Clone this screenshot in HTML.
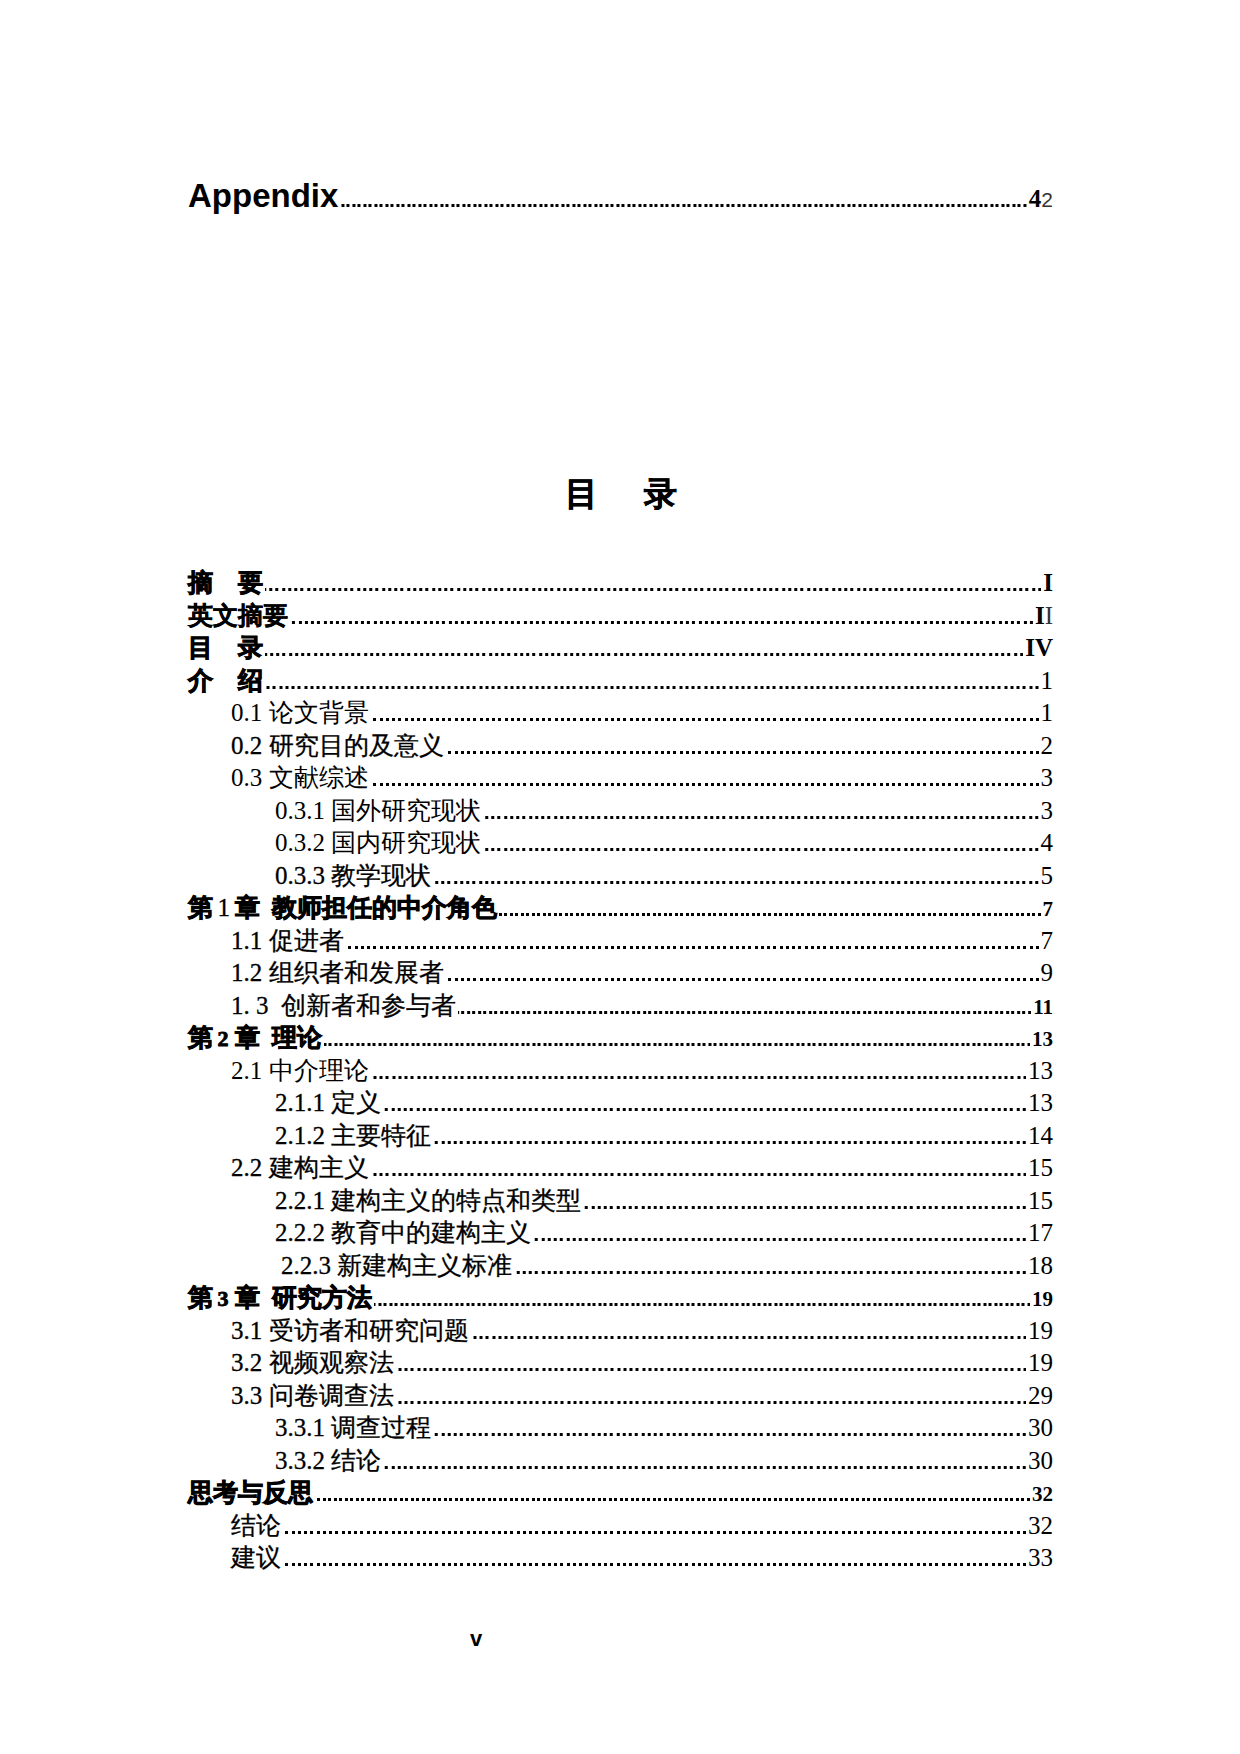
<!DOCTYPE html>
<html><head><meta charset="utf-8">
<style>
html,body{margin:0;padding:0;background:#fff;}
body{width:1240px;height:1754px;position:relative;overflow:hidden;color:#000;}
.row{position:absolute;height:40px;line-height:40px;display:flex;align-items:baseline;white-space:nowrap;font-family:"Liberation Serif",serif;font-size:25px;}
.row .t{flex:none;}
.row .d{flex:1 1 auto;height:3px;margin:0 2px 0 2px;background-repeat:repeat-x;background-position:right top;}
.dr{background-image:linear-gradient(to right,transparent 0 3px,#000 3px 6px,transparent 6px 9px,#000 9px 12px,transparent 12px 16px,#000 16px 19px,transparent 19px 22px,#000 22px 25px);background-size:25px 3px;}
.ds{background-image:linear-gradient(to right,transparent 0 2px,#000 2px 5px,transparent 5px 8px,#000 8px 11px);background-size:11px 3px;}
.row .p{flex:none;}

.pb{font-size:21px;font-weight:bold;}
.b{font-weight:bold;}
.h .t,.c .t{font-weight:bold;-webkit-text-stroke:0.9px #000;}
.l .t{font-weight:300;}
.r .t{-webkit-text-stroke:0.3px #000;}
.lt{-webkit-text-stroke:0.4px #000;}
.gap2{display:inline-block;width:25px;}
.sp{display:inline-block;width:12px;}
.sp3{display:inline-block;width:6.25px;}
.sp4{display:inline-block;width:12.5px;}
.hd{padding:0 6px 0 4.5px;font-size:22px;}
.n1{font-weight:normal;font-size:25px;padding:0 4.5px;-webkit-text-stroke:0.3px #000;}
#app{position:absolute;left:188px;top:171px;width:865px;height:50px;line-height:50px;display:flex;align-items:baseline;white-space:nowrap;}
#app .t{font-family:"Liberation Sans",sans-serif;font-weight:bold;font-size:33px;flex:none;}
#app .d{flex:1 1 auto;height:3px;margin:0 2px 0 2px;background-repeat:repeat-x;background-position:right top;}
#app .p4{font-family:"Liberation Serif",serif;font-weight:bold;font-size:25px;}
#app .p2{font-family:"Liberation Sans",sans-serif;font-size:21px;color:#333;}
#title{position:absolute;top:470px;left:565px;-webkit-text-stroke:0.6px #000;font-family:"Liberation Sans",sans-serif;font-weight:bold;font-size:33px;line-height:48px;white-space:nowrap;}
#title .g{display:inline-block;width:46px;}
#foot{position:absolute;left:470px;top:1624px;font-family:"Liberation Sans",sans-serif;font-weight:bold;font-size:22px;line-height:30px;}
</style></head><body>
<div id="app"><span class="t">Appendix</span><span class="d ds"></span><span class="p4">4</span><span class="p2">2</span></div>
<div id="title">目<span class="g"></span>录</div>
<div class="row h" style="top:563px;left:188px;width:865px"><span class="t">摘<span class="gap2"></span>要</span><span class="d dr"></span><span class="p pr"><b>I</b></span></div>
<div class="row h" style="top:596px;left:188px;width:865px"><span class="t"><span class="lt">英文摘要</span></span><span class="d dr"></span><span class="p pr"><b>I</b><span style="color:#333">I</span></span></div>
<div class="row h" style="top:628px;left:188px;width:865px"><span class="t">目<span class="gap2"></span>录</span><span class="d dr"></span><span class="p pr"><b>IV</b></span></div>
<div class="row h" style="top:661px;left:188px;width:865px"><span class="t">介<span class="gap2"></span>绍</span><span class="d dr"></span><span class="p pr">1</span></div>
<div class="row l" style="top:693px;left:231px;width:822px"><span class="t">0.1 论文背景</span><span class="d dr"></span><span class="p pr">1</span></div>
<div class="row r" style="top:726px;left:231px;width:822px"><span class="t">0.2 研究目的及意义</span><span class="d dr"></span><span class="p pr">2</span></div>
<div class="row l" style="top:758px;left:231px;width:822px"><span class="t">0.3 文献综述</span><span class="d dr"></span><span class="p pr">3</span></div>
<div class="row l" style="top:791px;left:275px;width:778px"><span class="t">0.3.1 国外研究现状</span><span class="d dr"></span><span class="p pr">3</span></div>
<div class="row l" style="top:823px;left:275px;width:778px"><span class="t">0.3.2 国内研究现状</span><span class="d dr"></span><span class="p pr">4</span></div>
<div class="row r" style="top:856px;left:275px;width:778px"><span class="t">0.3.3 教学现状</span><span class="d dr"></span><span class="p pr">5</span></div>
<div class="row c" style="top:888px;left:188px;width:865px"><span class="t">第<span class="hd n1">1</span>章<span class="sp"></span>教师担任的中介角色</span><span class="d ds"></span><span class="p pb">7</span></div>
<div class="row r" style="top:921px;left:231px;width:822px"><span class="t">1.1 促进者</span><span class="d dr"></span><span class="p pr">7</span></div>
<div class="row r" style="top:953px;left:231px;width:822px"><span class="t">1.2 组织者和发展者</span><span class="d dr"></span><span class="p pr">9</span></div>
<div class="row r" style="top:986px;left:231px;width:822px"><span class="t">1.<span class="sp3"></span>3<span class="sp4"></span>创新者和参与者</span><span class="d ds"></span><span class="p pb">11</span></div>
<div class="row c" style="top:1018px;left:188px;width:865px"><span class="t">第<span class="hd">2</span>章<span class="sp"></span>理论</span><span class="d ds"></span><span class="p pb">13</span></div>
<div class="row l" style="top:1051px;left:231px;width:822px"><span class="t">2.1 中介理论</span><span class="d dr"></span><span class="p pr">13</span></div>
<div class="row r" style="top:1083px;left:275px;width:778px"><span class="t">2.1.1 定义</span><span class="d dr"></span><span class="p pr">13</span></div>
<div class="row r" style="top:1116px;left:275px;width:778px"><span class="t">2.1.2 主要特征</span><span class="d dr"></span><span class="p pr">14</span></div>
<div class="row r" style="top:1148px;left:231px;width:822px"><span class="t">2.2 建构主义</span><span class="d dr"></span><span class="p pr">15</span></div>
<div class="row r" style="top:1181px;left:275px;width:778px"><span class="t">2.2.1 建构主义的特点和类型</span><span class="d dr"></span><span class="p pr">15</span></div>
<div class="row r" style="top:1213px;left:275px;width:778px"><span class="t">2.2.2 教育中的建构主义</span><span class="d dr"></span><span class="p pr">17</span></div>
<div class="row r" style="top:1246px;left:281px;width:772px"><span class="t">2.2.3 新建构主义标准</span><span class="d dr"></span><span class="p pr">18</span></div>
<div class="row c" style="top:1278px;left:188px;width:865px"><span class="t">第<span class="hd">3</span>章<span class="sp"></span>研究方法</span><span class="d ds"></span><span class="p pb">19</span></div>
<div class="row r" style="top:1311px;left:231px;width:822px"><span class="t">3.1 受访者和研究问题</span><span class="d dr"></span><span class="p pr">19</span></div>
<div class="row r" style="top:1343px;left:231px;width:822px"><span class="t">3.2 视频观察法</span><span class="d dr"></span><span class="p pr">19</span></div>
<div class="row r" style="top:1376px;left:231px;width:822px"><span class="t">3.3 问卷调查法</span><span class="d dr"></span><span class="p pr">29</span></div>
<div class="row r" style="top:1408px;left:275px;width:778px"><span class="t">3.3.1 调查过程</span><span class="d dr"></span><span class="p pr">30</span></div>
<div class="row r" style="top:1441px;left:275px;width:778px"><span class="t">3.3.2 结论</span><span class="d dr"></span><span class="p pr">30</span></div>
<div class="row h" style="top:1473px;left:188px;width:865px"><span class="t">思考与反思</span><span class="d ds"></span><span class="p pb">32</span></div>
<div class="row r" style="top:1506px;left:231px;width:822px"><span class="t">结论</span><span class="d dr"></span><span class="p pr">32</span></div>
<div class="row r" style="top:1538px;left:231px;width:822px"><span class="t">建议</span><span class="d dr"></span><span class="p pr">33</span></div>
<div id="foot">v</div>
</body></html>
